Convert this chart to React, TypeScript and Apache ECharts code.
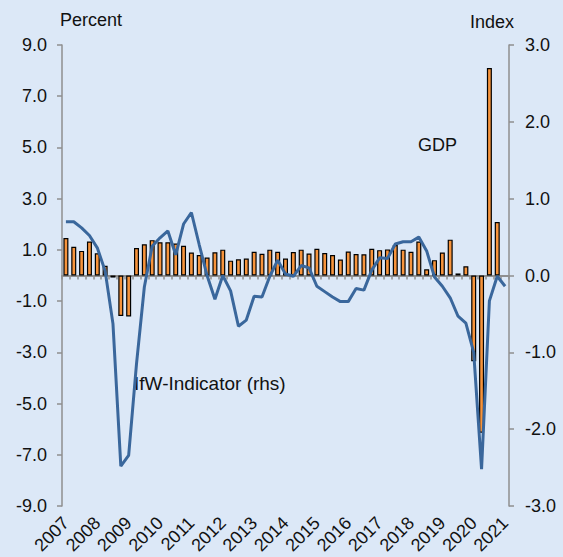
import React, { useEffect, useRef } from "react";
import * as echarts from "echarts";

const years = ["2007","2008","2009","2010","2011","2012","2013","2014","2015","2016","2017","2018","2019","2020","2021"];
const quarters = ["Q1","Q2","Q3","Q4"];
const categories: string[] = [];
years.forEach((y) => quarters.forEach((q) => { if (categories.length < 57) categories.push(y + " " + q); }));

// GDP, percent change q/q (left axis)
const gdp = [
  1.46, 1.12, 0.96, 1.33, 0.87, 0.38, -0.08, -1.58,
  -1.6, 1.07, 1.22, 1.38, 1.3, 1.3, 1.25, 1.16,
  0.9, 0.8, 0.7, 0.91, 1.01, 0.58, 0.63, 0.66,
  0.93, 0.85, 1.01, 0.93, 0.66, 0.92, 1.01, 0.86,
  1.04, 0.88, 0.8, 0.62, 0.94, 0.84, 0.83, 1.04,
  0.99, 1.02, 1.19, 1.01, 0.93, 1.33, 0.24, 0.6,
  0.9, 1.4, 0.08, 0.36, -3.35, -6.14, 8.1, 2.09,
];

// IfW-Indicator, index (right axis)
const ifw = [
  0.7, 0.7, 0.62, 0.52, 0.36, 0.06, -0.63, -2.48,
  -2.34, -1.15, -0.15, 0.38, 0.49, 0.58, 0.27, 0.67,
  0.82, 0.4, 0.0, -0.31, 0.0, -0.2, -0.66, -0.58,
  -0.27, -0.28, -0.01, 0.2, 0.02, -0.01, 0.13, 0.1,
  -0.14, -0.21, -0.28, -0.34, -0.34, -0.17, -0.19, 0.07,
  0.23, 0.22, 0.41, 0.44, 0.44, 0.5, 0.32, -0.02,
  -0.14, -0.29, -0.53, -0.62, -1.0, -2.52, -0.33, -0.01,
  -0.14,
];

const leftRange = { min: -9, max: 9, interval: 2 };
const rightRange = { min: -3, max: 3, interval: 1 };

const FONT = '"Liberation Sans", Arial, sans-serif';
const AXIS_GREY = "#8f8f8f";

export default function App() {
  const ref = useRef<HTMLDivElement>(null);
  useEffect(() => {
    if (!ref.current) return;
    const chart = echarts.init(ref.current, undefined, { renderer: "svg" });
    const labelStyle = { fontSize: 18, color: "#111", fontFamily: FONT };
    chart.setOption({
      animation: false,
      backgroundColor: "#dce8f7",
      grid: { left: 62, right: 54, top: 45, bottom: 51, containLabel: false },
      xAxis: [
        {
          type: "category",
          data: categories,
          position: "bottom",
          axisLine: { show: false, onZero: false },
          axisTick: { show: false },
          splitLine: { show: false },
          axisLabel: {
            ...labelStyle,
            interval: 3,
            rotate: 45,
            margin: 14,
            formatter: (v: string) => v.slice(0, 4),
          },
        },
        {
          type: "category",
          data: categories,
          position: "bottom",
          axisLine: { show: true, onZero: true, onZeroAxisIndex: 0, lineStyle: { color: AXIS_GREY, width: 2 } },
          axisTick: { show: true, interval: 0, length: 4, lineStyle: { color: AXIS_GREY, width: 1.5 } },
          axisLabel: { show: false },
          splitLine: { show: false },
        },
      ],
      yAxis: [
        {
          type: "value",
          position: "left",
          ...leftRange,
          axisLine: { show: true, lineStyle: { color: AXIS_GREY, width: 1.5 } },
          axisTick: { show: true, length: 5, lineStyle: { color: AXIS_GREY, width: 1.5 } },
          splitLine: { show: false },
          axisLabel: { ...labelStyle, margin: 15, formatter: (v: number) => v.toFixed(1) },
        },
        {
          type: "value",
          position: "right",
          ...rightRange,
          axisLine: { show: true, lineStyle: { color: AXIS_GREY, width: 1.5 } },
          axisTick: { show: true, length: 5, lineStyle: { color: AXIS_GREY, width: 1.5 } },
          splitLine: { show: false },
          axisLabel: { ...labelStyle, margin: 16, formatter: (v: number) => v.toFixed(1) },
        },
      ],
      series: [
        {
          type: "bar",
          name: "GDP",
          data: gdp,
          xAxisIndex: 0,
          yAxisIndex: 0,
          barWidth: 5,
          itemStyle: { color: "#f7943c", borderColor: "#000", borderWidth: 1.2 },
          z: 2,
        },
        {
          type: "line",
          name: "IfW-Indicator (rhs)",
          data: ifw,
          xAxisIndex: 0,
          yAxisIndex: 1,
          symbol: "none",
          lineStyle: { color: "#3a679c", width: 3 },
          z: 3,
        },
      ],
      graphic: [
        { type: "text", x: 60, y: 20, style: { text: "Percent", fill: "#111", fontSize: 18, fontFamily: FONT, align: "left", verticalAlign: "middle" } },
        { type: "text", x: 470, y: 22, style: { text: "Index", fill: "#111", fontSize: 18, fontFamily: FONT, align: "left", verticalAlign: "middle" } },
        { type: "text", x: 418, y: 145, style: { text: "GDP", fill: "#111", fontSize: 18, fontFamily: FONT, align: "left", verticalAlign: "middle" } },
        { type: "text", x: 134, y: 383, style: { text: "IfW-Indicator (rhs)", fill: "#111", fontSize: 19, fontFamily: FONT, align: "left", verticalAlign: "middle" } },
      ],
    });
    return () => chart.dispose();
  }, []);
  return <div ref={ref} style={{ position: "fixed", left: 0, top: 0, width: 563, height: 557 }} />;
}
